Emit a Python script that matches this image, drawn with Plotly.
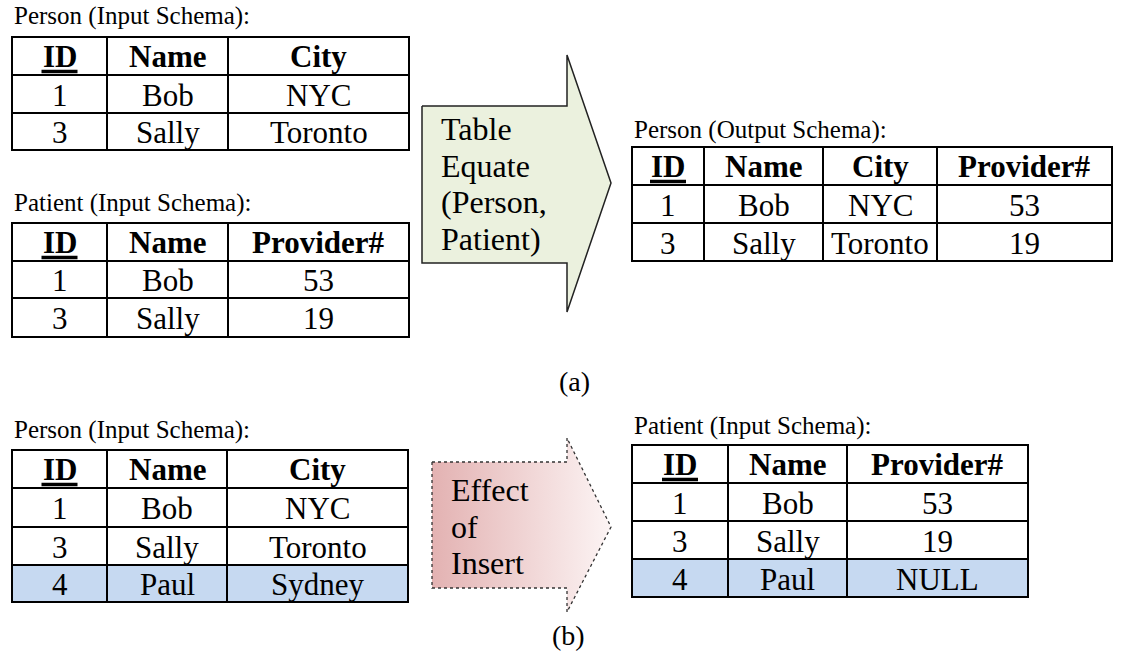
import plotly.graph_objects as go

# ---------------- data ----------------
person_cols = ["ID", "Name", "City"]
person_rows = [["1", "Bob", "NYC"], ["3", "Sally", "Toronto"]]

patient_cols = ["ID", "Name", "Provider#"]
patient_rows = [["1", "Bob", "53"], ["3", "Sally", "19"]]

output_cols = ["ID", "Name", "City", "Provider#"]
output_rows = [["1", "Bob", "NYC", "53"], ["3", "Sally", "Toronto", "19"]]

person_b_rows = [["1", "Bob", "NYC"], ["3", "Sally", "Toronto"], ["4", "Paul", "Sydney"]]
patient_b_rows = [["1", "Bob", "53"], ["3", "Sally", "19"], ["4", "Paul", "NULL"]]

titles = ["Person (Input Schema):", "Patient (Input Schema):", "Person (Output Schema):",
          "Person (Input Schema):", "Patient (Input Schema):"]
arrow_a_text = ["Table", "Equate", "(Person,", "Patient)"]
arrow_b_text = ["Effect", "of", "Insert"]
captions = ["(a)", "(b)"]
key_col = "ID"

# ---------------- layout geometry ----------------
W, H = 1122, 655
SERIF = "Liberation Serif"
CELL_FS = 31
ARROW_FS = 32
TITLE_FS = 25
HILITE = "#C6D9F1"

tables = [
    dict(cols=person_cols, rows=person_rows, xe=[12, 107, 228, 409], ye=[37, 75, 113, 150],
         title=titles[0], ty=16, hl=None),
    dict(cols=patient_cols, rows=patient_rows, xe=[12, 107, 228, 409], ye=[223, 261, 298, 337],
         title=titles[1], ty=203, hl=None),
    dict(cols=output_cols, rows=output_rows, xe=[632, 704, 823, 937, 1112], ye=[147, 185, 223, 261],
         title=titles[2], ty=130, hl=None),
    dict(cols=person_cols, rows=person_b_rows, xe=[12, 107, 227, 408], ye=[450, 488, 527, 565, 602],
         title=titles[3], ty=430, hl=2),
    dict(cols=patient_cols, rows=patient_b_rows, xe=[632, 728, 847, 1028], ye=[445, 483, 521, 559, 597],
         title=titles[4], ty=426, hl=2),
]

fig = go.Figure()
shapes = []
annotations = []

# arrows
arrow_a = dict(x=[422, 567, 567, 611, 567, 567, 422, 422], y=[106, 106, 55, 183, 312, 263, 263, 106])
arrow_b = dict(x=[432, 567, 567, 611, 567, 567, 432, 432], y=[462, 462, 438, 527, 612, 588, 588, 462])

fig.add_trace(go.Scatter(x=arrow_a["x"], y=arrow_a["y"], mode="lines", fill="toself",
                         fillcolor="#EBF1DE", line=dict(color="#222222", width=1.5),
                         hoverinfo="skip", showlegend=False))
fig.add_trace(go.Scatter(x=arrow_b["x"], y=arrow_b["y"], mode="lines", fill="toself",
                         fillgradient=dict(type="horizontal",
                                           colorscale=[[0, "#E3B2B2"], [1, "#FCF4F4"]]),
                         line=dict(color="#333333", width=1.3, dash="dot"),
                         hoverinfo="skip", showlegend=False))

for i, t in enumerate(arrow_a_text):
    annotations.append(dict(x=439, y=129 + i * 36.5, text=t, xanchor="left", yanchor="middle",
                            showarrow=False, font=dict(family=SERIF, size=ARROW_FS, color="black")))
for i, t in enumerate(arrow_b_text):
    annotations.append(dict(x=449, y=490 + i * 36.5, text=t, xanchor="left", yanchor="middle",
                            showarrow=False, font=dict(family=SERIF, size=ARROW_FS, color="black")))

for t in tables:
    xe, ye = t["xe"], t["ye"]
    if t["hl"] is not None:
        r = t["hl"] + 1
        shapes.append(dict(type="rect", x0=xe[0], x1=xe[-1], y0=ye[r], y1=ye[r + 1],
                           fillcolor=HILITE, line=dict(width=0), layer="below"))
    for y in ye:
        shapes.append(dict(type="line", x0=xe[0] - 1, x1=xe[-1] + 1, y0=y, y1=y,
                           line=dict(color="black", width=2)))
    for x in xe:
        shapes.append(dict(type="line", x0=x, x1=x, y0=ye[0], y1=ye[-1],
                           line=dict(color="black", width=2)))
    for j, c in enumerate(t["cols"]):
        cx = (xe[j] + xe[j + 1]) / 2
        annotations.append(dict(x=cx, y=(ye[0] + ye[1]) / 2 + 0.5, text=f"<b>{c}</b>",
                                showarrow=False, xanchor="center", yanchor="middle",
                                font=dict(family=SERIF, size=CELL_FS, color="black")))
        if c == key_col:
            shapes.append(dict(type="line", x0=cx - 18, x1=cx + 18, y0=ye[0] + 34.5, y1=ye[0] + 34.5,
                               line=dict(color="black", width=3.5)))
    for i, row in enumerate(t["rows"]):
        for j, v in enumerate(row):
            annotations.append(dict(x=(xe[j] + xe[j + 1]) / 2, y=(ye[i + 1] + ye[i + 2]) / 2 + 1,
                                    text=v, showarrow=False, xanchor="center", yanchor="middle",
                                    font=dict(family=SERIF, size=CELL_FS, color="black")))
    annotations.append(dict(x=xe[0], y=t["ty"], text=t["title"], showarrow=False,
                            xanchor="left", yanchor="middle",
                            font=dict(family=SERIF, size=TITLE_FS, color="black")))

annotations.append(dict(x=574, y=381, text=captions[0], showarrow=False,
                        font=dict(family=SERIF, size=28, color="black")))
annotations.append(dict(x=568, y=635, text=captions[1], showarrow=False,
                        font=dict(family=SERIF, size=28, color="black")))

fig.update_layout(
    width=W, height=H,
    margin=dict(l=0, r=0, t=0, b=0),
    paper_bgcolor="white", plot_bgcolor="white",
    xaxis=dict(range=[0, W], visible=False, fixedrange=True),
    yaxis=dict(range=[H, 0], visible=False, fixedrange=True),
    shapes=shapes, annotations=annotations,
    showlegend=False,
)

fig.write_html("out.html", config={"displayModeBar": False},
               post_script="document.body.style.margin='0';document.body.style.overflow='hidden';")
